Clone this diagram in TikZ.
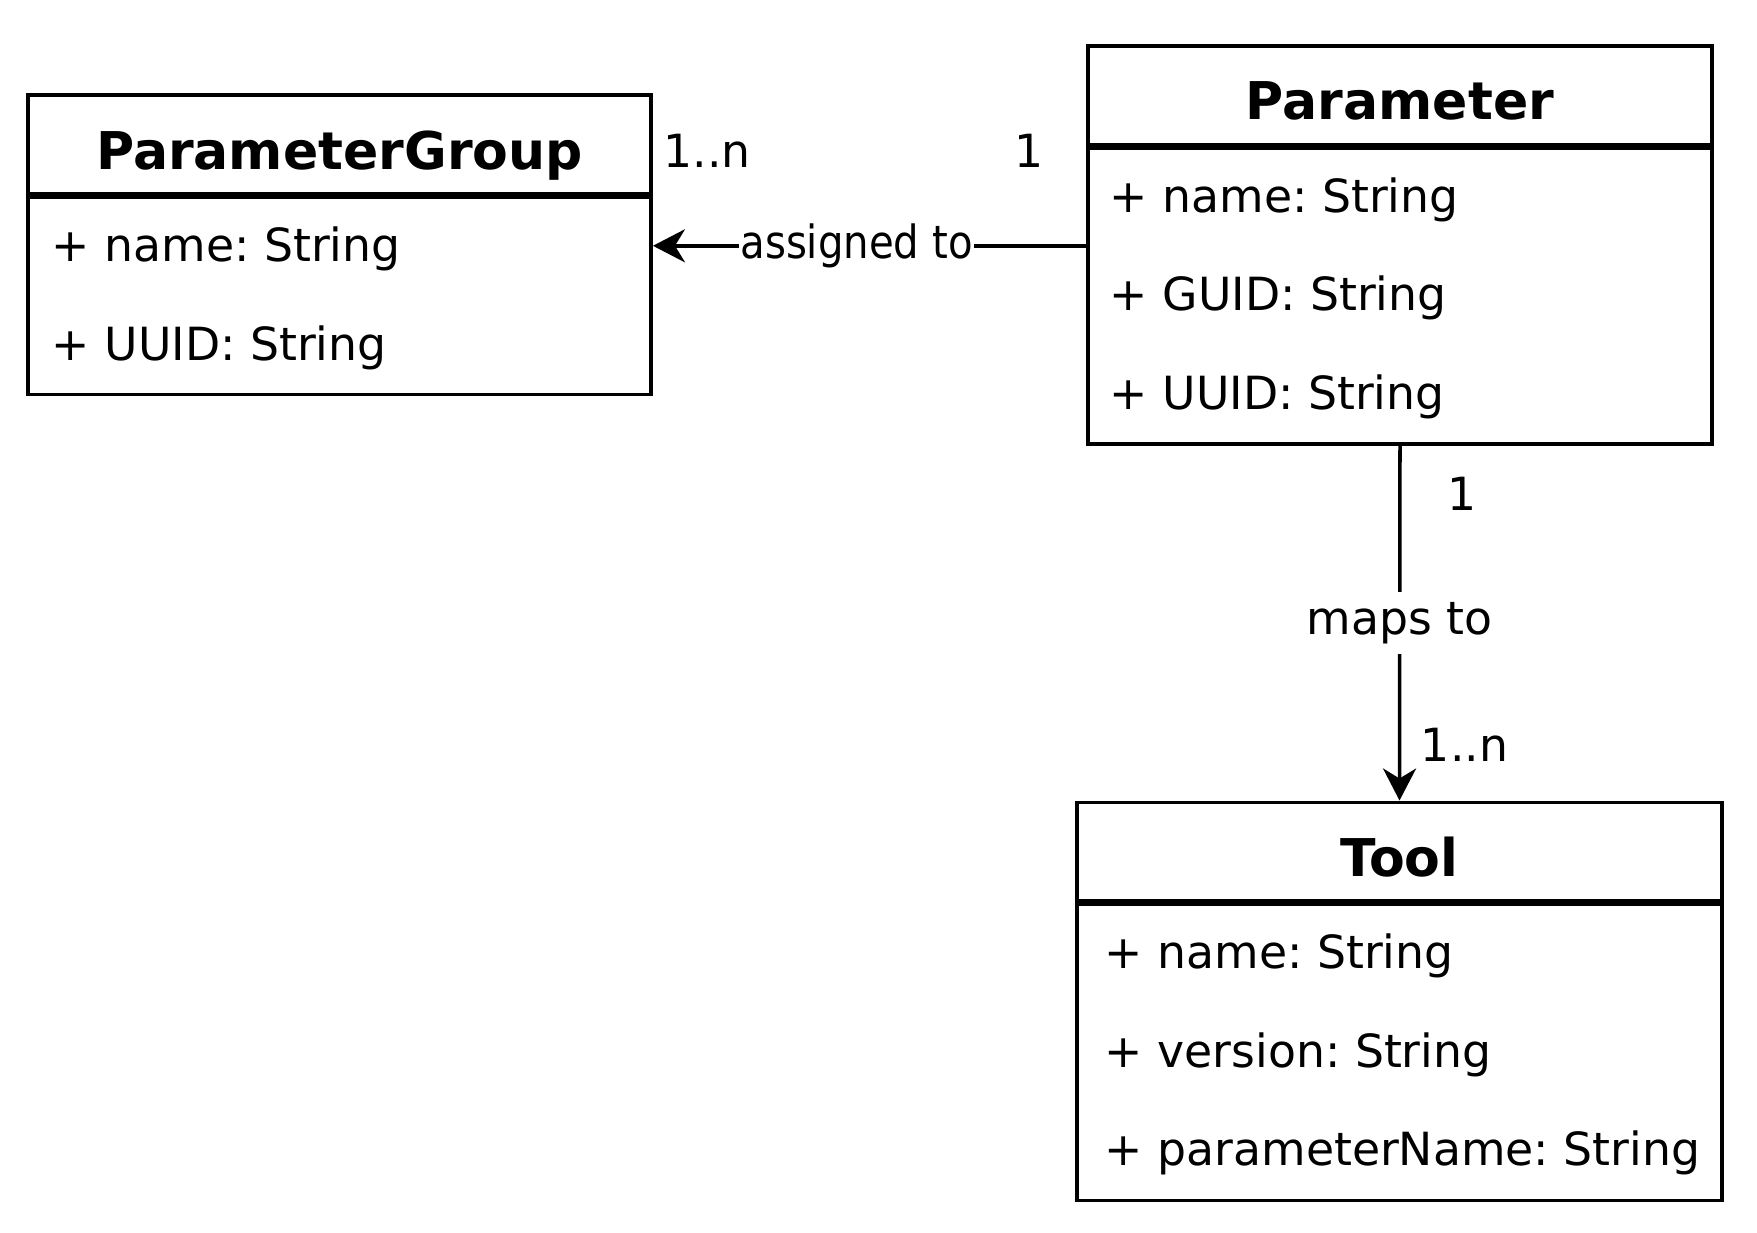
\documentclass[tikz,border=0pt]{standalone}
\usepackage{fontspec}
\setmainfont{DejaVu Sans}
\newfontfamily\condsans[FakeStretch=0.88]{DejaVu Sans}
\frenchspacing
\usetikzlibrary{arrows.meta, positioning, calc}
\tikzset{
  every picture/.style={line width=1pt},
  classhead/.style={draw, inner sep=0pt, minimum width=#1, minimum height=0.986cm, text height=0.49cm, text depth=0pt, font=\bfseries\fontsize{14.8}{17}\selectfont},
  classbody/.style={draw, inner sep=0pt, anchor=north, minimum width=#1},
  attr/.style={anchor=base west, inner sep=0pt, font=\fontsize{13}{15}\selectfont},
  mult/.style={inner sep=0pt, font=\fontsize{13}{15}\selectfont},
  arrow/.style={-{Stealth[length=3.2mm, width=3.3mm, inset=1mm]}},
  edgelabel/.style={fill=white, inner xsep=0.5pt, inner ysep=1pt, font=\condsans\fontsize{13}{15}\selectfont},
  mapslabel/.style={fill=white, inner xsep=1pt, inner ysep=0.1cm, font=\fontsize{13}{15}\selectfont},
}

\begin{document}
\begin{tikzpicture}[x=0.01cm, y=-0.01cm]
  \useasboundingbox (0,0) rectangle (1757,1233);
  % classes
  \node[classhead=6.23cm] (pg) at (339.5,144.5) {ParameterGroup};
  \node[classbody=6.23cm, minimum height=1.972cm] (pgbody) at (pg.south) {};
  \foreach \a [count=\i] in {name, UUID}
    \node[attr] (pga\i) at ($(pgbody.north west)+(24,98.6*\i-32.6)$) {+ \a: String};
  \node[classhead=6.24cm] (par) at (1400,95.2) {Parameter};
  \node[classbody=6.24cm, minimum height=2.958cm] (parbody) at (par.south) {};
  \foreach \a [count=\i] in {name, GUID, UUID}
    \node[attr] (para\i) at ($(parbody.north west)+(22,98.6*\i-32.6)$) {+ \a: String};
  \node[classhead=6.45cm] (tool) at (1399.5,851.6) {Tool};
  \node[classbody=6.45cm, minimum height=2.958cm] (toolbody) at (tool.south) {};
  \foreach \a [count=\i] in {name, version, parameterName}
    \node[attr] (toola\i) at ($(toolbody.north west)+(28,98.6*\i-32.6)$) {+ \a: String};
  % associations
  \coordinate (pgrow) at ($(pgbody.north east)!0.25!(pgbody.south east)$);
  \draw[arrow] (parbody.west |- pgrow) -- node[edgelabel, pos=0.53] (assign) {assigned to} (pgrow);
  \draw[arrow] (parbody.south) -- node[mapslabel] (maps) {maps to} (tool.north);
  % multiplicities
  \node[mult] (m1) at (707,151) {1..n};
  \node[mult] (m2) at (1028.6,151) {1};
  \node[mult] (m3) at (1462,494) {1};
  \node[mult] (m4) at (1464.5,745) {1..n};
\end{tikzpicture}
\end{document}
